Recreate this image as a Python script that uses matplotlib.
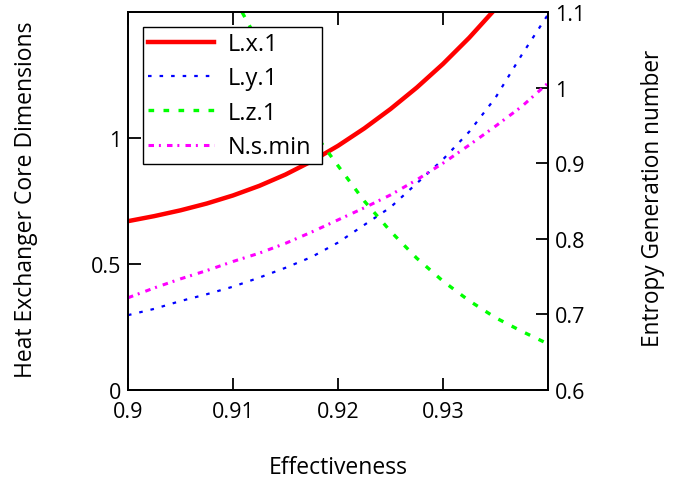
import numpy as np
import matplotlib
matplotlib.use("Agg")
import matplotlib.pyplot as plt
from matplotlib.ticker import FuncFormatter

plt.rcParams['font.family'] = ['Open Sans', 'DejaVu Sans']

# effectiveness grid (x)
eff = [0.9000, 0.9025, 0.9050, 0.9075, 0.9100, 0.9125, 0.9150, 0.9175, 0.9200,
       0.9225, 0.9250, 0.9275, 0.9300, 0.9325, 0.9350, 0.9375, 0.9400]

# core dimensions (left axis)
L_x1 = [0.670, 0.690, 0.713, 0.740, 0.772, 0.810, 0.855, 0.908, 0.969,
        1.038, 1.115, 1.200, 1.294, 1.398, 1.513]
L_y1 = [0.297, 0.322, 0.353, 0.380, 0.410, 0.446, 0.485, 0.528, 0.585,
        0.655, 0.725, 0.820, 0.915, 1.025, 1.160, 1.330, 1.490]
eff_z = [0.9100, 0.9125, 0.9150, 0.9175, 0.9200, 0.9225, 0.9250, 0.9275,
         0.9300, 0.9325, 0.9350, 0.9375, 0.9400]
L_z1 = [1.565, 1.375, 1.195, 1.032, 0.890, 0.750, 0.630, 0.523, 0.432,
        0.354, 0.287, 0.233, 0.183]

# entropy generation number (right axis)
N_smin = [0.722, 0.735, 0.747, 0.758, 0.770, 0.781, 0.794, 0.809, 0.825,
          0.841, 0.858, 0.878, 0.900, 0.924, 0.949, 0.975, 1.006]

fig = plt.figure(figsize=(6.76, 4.89), dpi=100)
ax = fig.add_axes([128/676, 1-391/489, 420/676, 378/489])
ax2 = ax.twinx()

l1, = ax.plot(eff[:len(L_x1)], L_x1, color='#ff0000', lw=3.2, label='L.x.1')
l2, = ax.plot(eff, L_y1, color='#0000ff', lw=1.6, linestyle=(0, (1.6, 3.6)), label='L.y.1')
l3, = ax.plot(eff_z, L_z1, color='#00ff00', lw=2.4, linestyle=(0, (1.7, 2.8)), label='L.z.1')
l4, = ax2.plot(eff, N_smin, color='#ff00ff', lw=2.2, linestyle=(0, (1.8, 1.6, 0.65, 2.0)),
               label='N.s.min')

ax.set_xlim(0.9, 0.94)
ax.set_ylim(0, 1.5)
ax2.set_ylim(0.6, 1.1)
ax.set_xticks([0.9, 0.91, 0.92, 0.93])
ax.set_yticks([0, 0.5, 1])
ax2.set_yticks([0.6, 0.7, 0.8, 0.9, 1.0, 1.1])
fmt = FuncFormatter(lambda v, p: '%g' % round(v, 4))
ax.xaxis.set_major_formatter(fmt)
ax.yaxis.set_major_formatter(fmt)
ax2.yaxis.set_major_formatter(fmt)

for a in (ax, ax2):
    for s in a.spines.values():
        s.set_linewidth(1.3)
ax.tick_params(axis='x', direction='in', length=9, width=1.3, top=True, labelsize=15.5, pad=8)
ax.tick_params(axis='y', direction='in', length=9, width=1.3, labelsize=15.5, pad=5)
ax2.tick_params(axis='y', direction='in', length=9, width=1.3, labelsize=15.5, pad=5)

fig.text(26/676, 1-200/489, 'Heat Exchanger Core Dimensions', rotation=90,
         ha='center', va='center', fontsize=16.5)
fig.text(653/676, 1-198/489, 'Entropy Generation number', rotation=90,
         ha='center', va='center', fontsize=16.3)
fig.text(338/676, 1-468/489, 'Effectiveness', ha='center', va='center', fontsize=16.5)

leg = ax2.legend(handles=[l1, l2, l3, l4], loc='upper left',
                 bbox_to_anchor=(15/420, 0.603, 179/420, 0.357), mode='expand',
                 borderaxespad=0, fontsize=17, handlelength=2.8, handletextpad=0.6,
                 borderpad=0.2, labelspacing=0.44, fancybox=False, framealpha=1)
leg.get_frame().set_edgecolor('black')
leg.get_frame().set_linewidth(1.0)

fig.savefig('out.png', dpi=100)
